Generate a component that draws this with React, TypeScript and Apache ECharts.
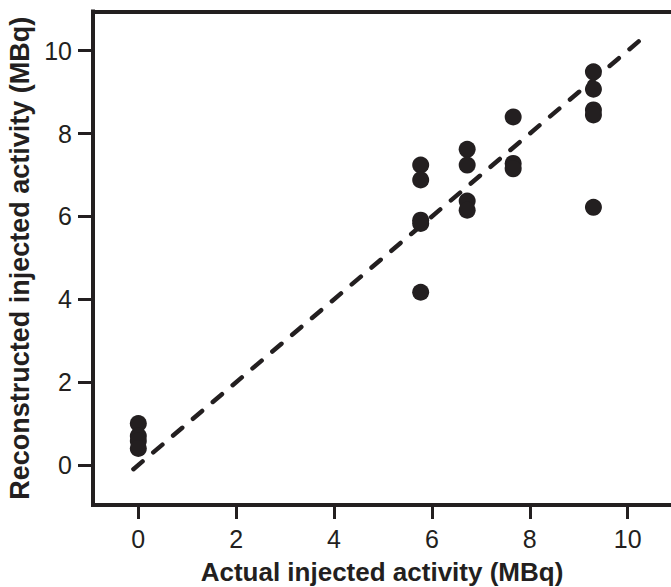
import React, { useEffect, useRef } from "react";
import * as echarts from "echarts";

const tickValues = [0, 2, 4, 6, 8, 10];
const actual = [0, 0, 0, 0, 5.77, 5.77, 5.77, 5.77, 5.77, 6.72, 6.72, 6.72, 6.72, 7.66, 7.66, 7.66, 9.3, 9.3, 9.3, 9.3, 9.3];
const reconstructed = [1.0, 0.7, 0.58, 0.4, 7.24, 6.88, 5.91, 5.83, 4.17, 7.62, 7.24, 6.37, 6.15, 8.4, 7.28, 7.15, 9.49, 9.07, 8.57, 8.45, 6.22];
const fitX = [-0.1, 10.25];
const fitY = [-0.1, 10.25];

const INK = "#231f20";
const FONT = "'Liberation Sans', Arial, Helvetica, sans-serif";

export default function App() {
  const ref = useRef<HTMLDivElement>(null);
  useEffect(() => {
    if (!ref.current) return;
    const chart = echarts.init(ref.current, null, { renderer: "svg" });
    const axisLineStyle = { color: INK, width: 4, cap: "square" as const };
    chart.setOption({
      animation: false,
      backgroundColor: "#ffffff",
      grid: { left: 93, right: 0, top: 11.5, bottom: 82, containLabel: false, outerBoundsMode: "none" },
      xAxis: [
        {
          type: "value",
          min: -0.926,
          max: 10.885,
          position: "bottom",
          name: "Actual injected activity (MBq)",
          nameLocation: "middle",
          nameGap: 54,
          nameTextStyle: { fontFamily: FONT, fontSize: 26, fontWeight: "bold", color: INK },
          axisLine: { show: true, onZero: false, lineStyle: axisLineStyle },
          axisTick: { show: true, inside: false, length: 14, customValues: tickValues, lineStyle: { color: INK, width: 3 } },
          axisLabel: { show: true, margin: 21, customValues: tickValues, fontFamily: FONT, fontSize: 25, color: INK },
          splitLine: { show: false },
        },
        {
          type: "value",
          min: -0.926,
          max: 10.885,
          position: "top",
          axisLine: { show: true, onZero: false, lineStyle: axisLineStyle },
          axisTick: { show: false },
          axisLabel: { show: false },
          splitLine: { show: false },
        },
      ],
      yAxis: {
        type: "value",
        min: -0.965,
        max: 10.946,
        position: "left",
        name: "Reconstructed injected activity (MBq)",
        nameLocation: "middle",
        nameGap: 55,
        nameTextStyle: { fontFamily: FONT, fontSize: 27, fontWeight: "bold", color: INK },
        axisLine: { show: true, onZero: false, lineStyle: axisLineStyle },
        axisTick: { show: true, inside: false, length: 15, customValues: tickValues, lineStyle: { color: INK, width: 3 } },
        axisLabel: { show: true, margin: 21, customValues: tickValues, fontFamily: FONT, fontSize: 25, color: INK },
        splitLine: { show: false },
      },
      series: [
        {
          type: "line",
          data: fitX.map((x, i) => [x, fitY[i]]),
          symbol: "none",
          silent: true,
          z: 1,
          lineStyle: { color: INK, width: 4.5, type: [12, 14], cap: "round" },
        },
        {
          type: "scatter",
          data: actual.map((x, i) => [x, reconstructed[i]]),
          symbol: "circle",
          symbolSize: 17,
          z: 2,
          itemStyle: { color: INK, opacity: 1 },
        },
      ],
    });
    return () => chart.dispose();
  }, []);
  return (
    <div
      ref={ref}
      style={{ position: "fixed", left: 0, top: 0, width: 671, height: 587, background: "#fff" }}
    />
  );
}
